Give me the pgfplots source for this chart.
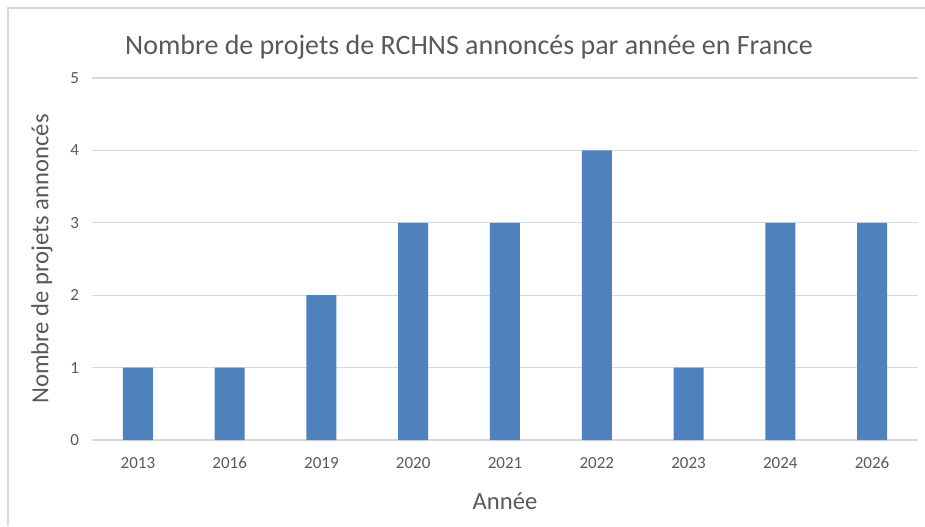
\documentclass[border=0pt]{standalone}
\usepackage{pgfplots}
\pgfplotsset{compat=1.18}
\usepackage{fontspec}
\setmainfont{Carlito}
\definecolor{barblue}{HTML}{4F81BD}
\definecolor{txt}{HTML}{595959}
\definecolor{gridc}{HTML}{D9D9D9}
\begin{document}
\begin{tikzpicture}[x=1pt,y=1pt]
\path[use as bounding box] (0,0) rectangle (462.5,263);
\draw[gridc, line width=0.6pt] (4,0) -- (4,259) -- (462.5,259);
\begin{axis}[
  at={(46pt,43pt)}, anchor=south west,
  scale only axis, width=413pt, height=181pt,
  ybar, bar width=15pt,
  xmin=-0.5, xmax=8.5, ymin=0, ymax=5,
  xtick=data,
  xticklabels={2013,2016,2019,2020,2021,2022,2023,2024,2026},
  ytick={0,1,2,3,4,5},
  xmajorgrids=false, ymajorgrids=true,
  y grid style={gridc, line width=0.6pt},
  axis x line*=bottom, axis y line*=left,
  x axis line style={gridc, line width=0.8pt, -},
  y axis line style={draw=none},
  major tick length=0pt,
  tick label style={font=\fontsize{8.5}{10}\selectfont, text=txt},
  /pgf/number format/assume math mode=true,
  yticklabel style={xshift=-3pt},
  xticklabel style={yshift=-5pt},
  xlabel={Année}, ylabel={Nombre de projets annoncés},
  label style={font=\fontsize{12.3}{14}\selectfont, text=txt},
  xlabel style={yshift=-5pt},
  ylabel style={yshift=2pt},
  title={Nombre de projets de RCHNS annoncés par année en France},
  title style={font=\fontsize{14}{16}\selectfont, text=txt, yshift=0pt, xshift=-18pt},
  clip=false,
]
\addplot[fill=barblue, draw=none, bar shift=0pt] coordinates {(0,1) (1,1) (2,2) (3,3) (4,3) (5,4) (6,1) (7,3) (8,3)};
\end{axis}
\end{tikzpicture}
\end{document}
